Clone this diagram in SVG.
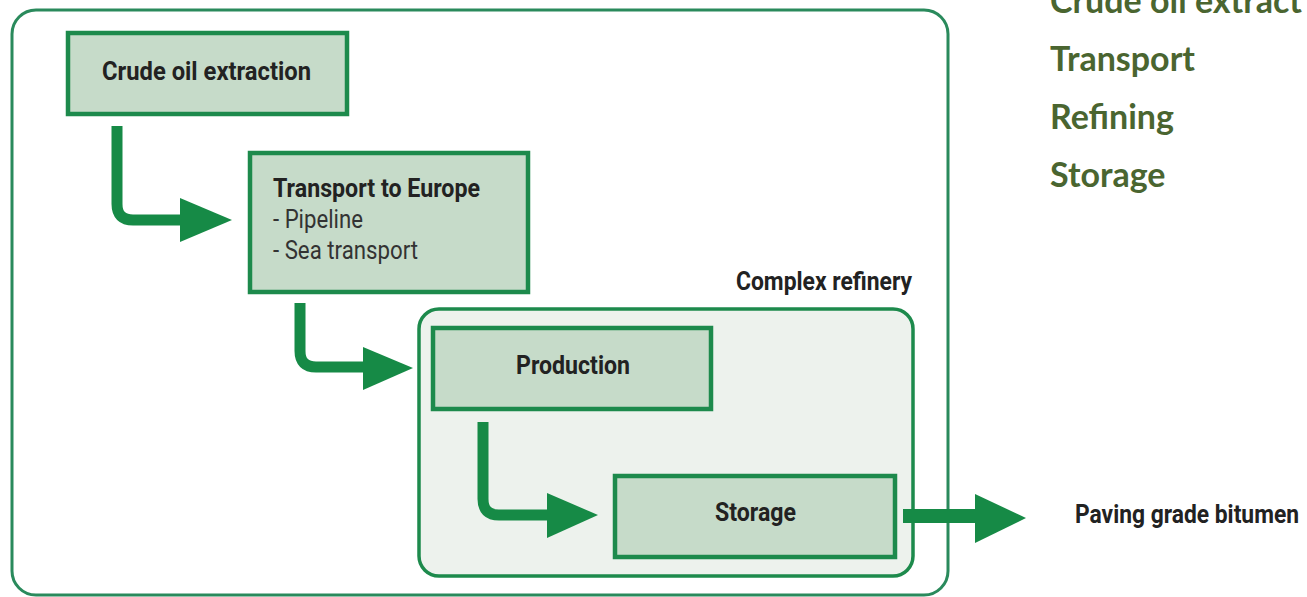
<svg xmlns="http://www.w3.org/2000/svg" width="1307" height="597" viewBox="0 0 1307 597">
<style>
.box{fill:#c6dbc9;stroke:#1d8a4c;stroke-width:4.5}
.frame{fill:#ffffff;stroke:#2a8a5c;stroke-width:3}
.ref{fill:#edf2ed;stroke:#1d8a4c;stroke-width:3.5}
.t{font-family:"Liberation Sans Narrow","Roboto","DejaVu Sans Condensed",sans-serif;font-size:25px;fill:#222;font-weight:bold}
.n{font-weight:normal;fill:#333}
.conn{fill:none;stroke:#168a46;stroke-width:11}
.head{fill:#168a46}
.side{font-family:"Lato","Open Sans",sans-serif;font-weight:bold;font-size:34px;fill:#4a6530}
</style>
<rect width="1307" height="597" fill="#ffffff"/>
<g id="frame"><rect class="frame" x="12" y="10" width="936" height="585" rx="24"/></g>
<g id="refinery">
<rect class="ref" x="419" y="309" width="494" height="267" rx="20"/>
<text class="t" x="736" y="290" textLength="176" lengthAdjust="spacingAndGlyphs">Complex refinery</text>
</g>
<g id="crude">
<rect class="box" x="68" y="33" width="279" height="81"/>
<text class="t" x="102" y="80" textLength="209" lengthAdjust="spacingAndGlyphs">Crude oil extraction</text>
</g>
<g id="transport">
<rect class="box" x="250" y="153" width="278" height="139"/>
<text class="t" x="273" y="197" textLength="207" lengthAdjust="spacingAndGlyphs">Transport to Europe</text>
<text class="t n" x="273" y="228" textLength="90" lengthAdjust="spacingAndGlyphs">- Pipeline</text>
<text class="t n" x="273" y="259" textLength="145" lengthAdjust="spacingAndGlyphs">- Sea transport</text>
</g>
<g id="production">
<rect class="box" x="433" y="328" width="278" height="81"/>
<text class="t" x="516" y="374" textLength="114" lengthAdjust="spacingAndGlyphs">Production</text>
</g>
<g id="storage">
<rect class="box" x="615" y="476" width="280" height="81"/>
<text class="t" x="715" y="521" textLength="81" lengthAdjust="spacingAndGlyphs">Storage</text>
</g>
<g id="output">
<text class="t" x="1075" y="523" textLength="224" lengthAdjust="spacingAndGlyphs">Paving grade bitumen</text>
</g>
<g id="connectors">
<path class="conn" d="M117 126 V204 Q117 220 133 220 H184"/>
<polygon class="head" points="180,198 232,220 180,242"/>
<path class="conn" d="M300 303 V351 Q300 367 316 367 H367"/>
<polygon class="head" points="363,347 413,368 363,390"/>
<path class="conn" d="M483 422 V499 Q483 515 499 515 H551"/>
<polygon class="head" points="547,493 598,515 547,538"/>
<path class="conn" d="M903 516 H979" style="stroke-width:14"/>
<polygon class="head" points="975,494 1026,518 975,543"/>
</g>
<g id="legend">
<text class="side" x="1050" y="13">Crude oil extract</text>
<text class="side" x="1050" y="71">Transport</text>
<text class="side" x="1050" y="129">Refining</text>
<text class="side" x="1050" y="187">Storage</text>
</g>
</svg>
